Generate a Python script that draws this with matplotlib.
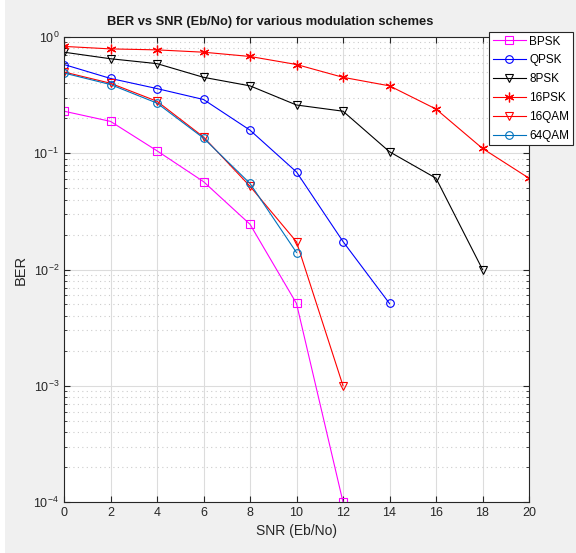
import numpy as np
import matplotlib
matplotlib.use("Agg")
import matplotlib.pyplot as plt
from matplotlib.patches import Rectangle

plt.rcParams['font.family'] = ['Liberation Sans', 'DejaVu Sans']
plt.rcParams['mathtext.default'] = 'regular'
plt.rcParams['axes.unicode_minus'] = False

# BER readings per modulation scheme
snr_bpsk = [0, 2, 4, 6, 8, 10, 12]
ber_bpsk = [0.23, 0.188, 0.105, 0.057, 0.0245, 0.0051, 0.0001]

snr_qpsk = [0, 2, 4, 6, 8, 10, 12, 14]
ber_qpsk = [0.58, 0.44, 0.36, 0.29, 0.158, 0.069, 0.0174, 0.0051]

snr_8psk = [0, 2, 4, 6, 8, 10, 12, 14, 16, 18]
ber_8psk = [0.74, 0.65, 0.59, 0.45, 0.38, 0.26, 0.23, 0.103, 0.061, 0.01]

snr_16psk = [0, 2, 4, 6, 8, 10, 12, 14, 16, 18, 20]
ber_16psk = [0.83, 0.79, 0.775, 0.74, 0.68, 0.58, 0.45, 0.38, 0.24, 0.11, 0.061]

snr_16qam = [0, 2, 4, 6, 8, 10, 12]
ber_16qam = [0.5, 0.4, 0.28, 0.138, 0.052, 0.0173, 0.001]

snr_64qam = [0, 2, 4, 6, 8, 10]
ber_64qam = [0.49, 0.39, 0.27, 0.135, 0.055, 0.014]

W, H = 576, 553
fig = plt.figure(figsize=(W/100, H/100), dpi=100, facecolor='white')
# grey window area, thin white strip on the left like the screenshot
fig.patches.append(Rectangle((5/W, 0), 1, 1, transform=fig.transFigure,
                             facecolor='#f0f0f0', edgecolor='none', zorder=-10))
ax = fig.add_axes([64/W, 1 - 502/H, (529 - 64)/W, (502 - 37)/H])

style = dict(linewidth=0.8, markersize=5.5, markerfacecolor='none', markeredgewidth=0.8)
ax.semilogy(snr_bpsk, ber_bpsk, '-s', color=(1, 0, 1), label='BPSK', **style)
ax.semilogy(snr_qpsk, ber_qpsk, '-o', color=(0, 0, 1), label='QPSK', **style)
ax.semilogy(snr_8psk, ber_8psk, '-v', color='k', label='8PSK', **style)
ax.semilogy(snr_16psk, ber_16psk, '-', marker=(6, 2, 0), color=(1, 0, 0), label='16PSK',
            linewidth=0.8, markersize=7, markeredgewidth=0.9)
ax.semilogy(snr_16qam, ber_16qam, '-v', color=(1, 0, 0), label='16QAM', **style)
ax.semilogy(snr_64qam, ber_64qam, '-o', color=(0, 0.447, 0.741), label='64QAM', **style)

ax.set_xlim(0, 20)
ax.set_ylim(1e-4, 1)
ax.set_xticks(np.arange(0, 21, 2))
ax.grid(True, which='major', color='#dcdcdc', linestyle='-', linewidth=0.8)
ax.grid(True, which='minor', axis='y', color='#cccccc', linestyle=(0, (1, 3)), linewidth=0.8)
ax.tick_params(which='both', direction='in', top=True, right=True, colors='#262626',
               labelsize=9)
ax.tick_params(which='major', length=4)
ax.tick_params(which='minor', length=2)
for s in ax.spines.values():
    s.set_color('#262626')
    s.set_linewidth(0.8)

fig.text(270/W, 1 - 22/H, 'BER vs SNR (Eb/No) for various modulation schemes',
         fontsize=9.3, fontweight='bold', color='#1a1a1a', ha='center', va='center')
ax.set_xlabel('SNR (Eb/No)', fontsize=10, color='#262626')
ax.set_ylabel('BER', fontsize=10.5, color='#262626')

leg = ax.legend(loc='upper left', bbox_to_anchor=(489/W, 1 - 32/H),
                bbox_transform=fig.transFigure, fontsize=8.5, fancybox=False,
                framealpha=1, edgecolor='#262626', handlelength=2.8,
                borderpad=0.3, labelspacing=0.58, handletextpad=0.3,
                borderaxespad=0)
leg.get_frame().set_linewidth(0.8)

fig.savefig('out.png', dpi=100, facecolor=fig.get_facecolor())
